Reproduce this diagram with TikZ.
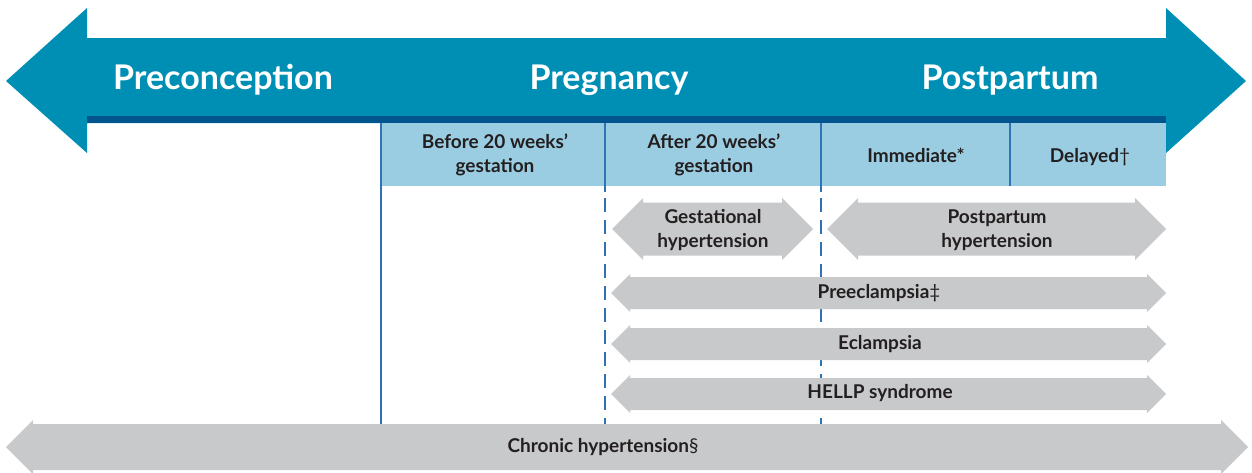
\documentclass[tikz,border=0pt]{standalone}
\usepackage{fontspec}
\setmainfont{Lato}
\usetikzlibrary{positioning}
\definecolor{TealArrow}{HTML}{008FB4}
\definecolor{TealDark}{HTML}{00558F}
\definecolor{BandBlue}{HTML}{9BCDE2}
\definecolor{RuleBlue}{HTML}{2F72B5}
\definecolor{BarGray}{HTML}{C8C9CB}
\definecolor{InkDark}{HTML}{231F20}
\newcommand{\fnmark}[1]{{\mdseries\fontsize{19}{19}\selectfont #1}}
% gray two-headed bar: x1, x2, y centre, shaft half, head half
\newcommand{\grayBar}[5]{%
  \fill[BarGray] (#1,#3) -- ({#1+#5},{#3-#5}) -- ({#1+#5},{#3-#4})
    -- ({#2-#5},{#3-#4}) -- ({#2-#5},{#3-#5}) -- (#2,#3)
    -- ({#2-#5},{#3+#5}) -- ({#2-#5},{#3+#4}) -- ({#1+#5},{#3+#4})
    -- ({#1+#5},{#3+#5}) -- cycle;}
\tikzset{
  phase/.style={font=\fontsize{34}{34}\selectfont\bfseries,white,inner sep=0pt,anchor=base},
  hdr/.style={font=\fontsize{19}{24}\selectfont\bfseries,InkDark,align=center,inner sep=0pt,anchor=base},
  barlabel/.style={font=\fontsize{19}{24}\selectfont\bfseries,InkDark,align=center,inner sep=0pt,anchor=base},
  rule/.style={RuleBlue,line width=1.3pt},
  dashrule/.style={RuleBlue,line width=1.3pt,dash pattern=on 14pt off 8pt}
}

\begin{document}
\begin{tikzpicture}[x=1pt,y=-1pt]
  \useasboundingbox (0,0) rectangle (1252,472);
  % --- Top: timeline arrow ---
  \fill[TealArrow] (6,81) -- (87,8) -- (87,38) -- (1166,38) -- (1166,8)
    -- (1246,81) -- (1166,153) -- (1166,123) -- (87,123) -- (87,153) -- cycle;
  \fill[TealDark] (87,116) rectangle (1166,123);
  \node[phase] (precon) at (223,89) {Preconception};
  \node[phase] (preg)   at (609,89) {Pregnancy};
  \node[phase] (post)   at (1010,89) {Postpartum};

  % --- Header band ---
  \fill[BandBlue] (381,123) rectangle (1166,186);
  \draw[rule] (381,123) -- (381,424);
  \draw[rule] (605,123) -- (605,192);
  \draw[rule] (821,123) -- (821,192);
  \draw[rule] (1010,123) -- (1010,186);
  \draw[dashrule] (605,198) -- (605,424);
  \draw[dashrule] (821,198) -- (821,424);
  % (base of a two-line node = last line)
  \node[hdr] (before) at (495,172) {Before 20 weeks’\\gestation};
  \node[hdr] (after)  at (714,172) {After 20 weeks’\\gestation};
  \node[hdr] (immed)  at (916,162) {Immediate*};
  \node[hdr] (delay)  at (1090,162) {Delayed\fnmark{†}};

  % --- Gray bars ---
  \grayBar{612}{813}{229}{26.5}{31}
  \grayBar{827}{1166}{229}{26.5}{31}
  \grayBar{611}{1166}{293}{16}{19}
  \grayBar{611}{1166}{344}{16}{19}
  \grayBar{611}{1166}{394}{16}{19}
  \grayBar{6}{1248}{447}{23}{27}
  \node[barlabel] (gest)  at (713,247) {Gestational\\hypertension};
  \node[barlabel] (pphyp) at (997,247) {Postpartum\\hypertension};
  \node[barlabel] (pree)  at (879,298) {Preeclampsia\fnmark{‡}};
  \node[barlabel] (ecl)   at (880,349) {Eclampsia};
  \node[barlabel] (hellp) at (880,398) {HELLP syndrome};
  \node[barlabel] (chron) at (603,452) {Chronic hypertension\fnmark{§}};
\end{tikzpicture}
\end{document}
